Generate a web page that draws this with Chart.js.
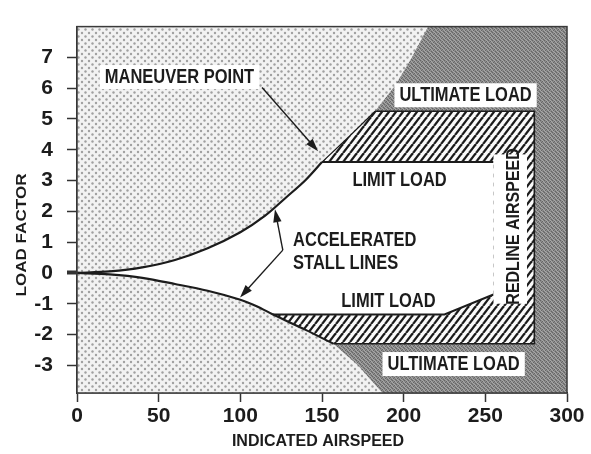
<!DOCTYPE html>
<html>
<head>
<meta charset="utf-8">
<title>V-g diagram</title>
<script src="https://cdn.jsdelivr.net/npm/chart.js"></script>
<style>
    html, body { margin: 0; padding: 0; background: #fff; }
    #wrap { width: 591px; height: 454px; }
</style>
</head>
<body>
<div id="wrap"><canvas id="vgChart" width="591" height="454"></canvas></div>
<script>
const xTicks = [0, 50, 100, 150, 200, 250, 300];
const yTicks = [-3, -2, -1, 0, 1, 2, 3, 4, 5, 6, 7];
const xMin = 0, xMax = 300, yMin = -3.9, yMax = 8;

// accelerated stall line, positive side (up to the maneuver point)
const posStallV = [0, 20, 40, 60, 80, 100, 115, 128, 140, 150];
const posStallN = [0, 0.05, 0.18, 0.42, 0.8, 1.32, 1.85, 2.45, 3.02, 3.6];
// edge of the shaded area above the maneuver point
const posEdgeV = [150, 166, 182.5, 195, 205, 215];
const posEdgeN = [3.6, 4.4, 5.25, 6.1, 7.0, 8.0];
// accelerated stall line, negative side
const negStallV = [0, 20, 40, 60, 80, 100, 110, 120, 140, 157, 172, 187];
const negStallN = [0, -0.05, -0.16, -0.36, -0.58, -0.87, -1.08, -1.35, -1.85, -2.3, -3.0, -3.9];
// negative limit load line
const negLimitV = [120, 225, 255];
const negLimitN = [-1.35, -1.35, -0.7];

const limitPos = 3.6;
const ultimatePos = 5.25;
const ultimateNeg = -2.3;
const redline = 255;
const cautionEnd = 280;

const notes = [
    { text: 'MANEUVER POINT', v: 17, n: 6.36, align: 'left', box: true },
    { text: 'ULTIMATE LOAD', v: 237.9, n: 5.77, align: 'center', box: true },
    { text: 'LIMIT LOAD', v: 197.5, n: 3.01, align: 'center' },
    { text: 'ACCELERATED', v: 132.3, n: 1.05, align: 'left' },
    { text: 'STALL LINES', v: 132.3, n: 0.31, align: 'left' },
    { text: 'LIMIT LOAD', v: 190.7, n: -0.93, align: 'center' },
    { text: 'ULTIMATE LOAD', v: 230.6, n: -2.96, align: 'center', box: true }
];
const redlineLabel = { text: 'REDLINE AIRSPEED', v: 267.5, n: 1.51, box: [255, 275.5, -1.0, 3.85] };
const arrows = [
    { from: [113.3, 6.02], to: [147.6, 3.95] },
    { from: [126, 0.74], to: [121.2, 2.07] },
    { from: [126, 0.74], to: [99.8, -0.8] }
];

const FONT = '"Liberation Sans", Arial, sans-serif';
const INK = '#1c1c1c';

const pts = (vs, ns) => vs.map((v, i) => ({ x: v, y: ns[i] }));

function makePattern(w, h, paint) {
    const c = document.createElement('canvas');
    c.width = w; c.height = h;
    const g = c.getContext('2d');
    paint(g, w, h);
    return c.getContext('2d').createPattern(c, 'repeat');
}

const dotPattern = makePattern(7, 7, (g, w, h) => {
    g.fillStyle = '#f2f2f2';
    g.fillRect(0, 0, w, h);
    g.fillStyle = '#a0a0a0';
    [[1.5, 1.5], [5, 5]].forEach(([cx, cy]) => {
        g.beginPath(); g.arc(cx, cy, 1.2, 0, Math.PI * 2); g.fill();
    });
});

const grayPattern = makePattern(4, 4, (g) => {
    g.fillStyle = '#8a8a8a';
    g.fillRect(0, 0, 4, 4);
    g.fillStyle = '#666666';
    [[0, 0], [2, 1], [1, 2], [3, 3]].forEach(([a, b]) => g.fillRect(a, b, 1, 1));
    g.fillStyle = '#a8a8a8';
    [[2, 0], [0, 2], [3, 1], [1, 3]].forEach(([a, b]) => g.fillRect(a, b, 1, 1));
});

const hatchPattern = makePattern(7, 9, (g, w, h) => {
    g.fillStyle = '#fafafa';
    g.fillRect(0, 0, w, h);
    g.strokeStyle = '#1a1a1a';
    g.lineWidth = 2.3;
    [-w, 0, w].forEach(k => {
        g.beginPath(); g.moveTo(k, h); g.lineTo(k + w, 0); g.stroke();
    });
});

const stallPos = pts(posStallV, posStallN);
const edgePos = pts(posEdgeV, posEdgeN);
const stallNeg = pts(negStallV, negStallN);
const limitNegLine = pts(negLimitV, negLimitN);

const dotsPoly = [{ x: xMin, y: yMax }, { x: xMax, y: yMax }, { x: xMax, y: yMin }, { x: xMin, y: yMin }];
const grayPoly = [...stallPos, ...edgePos.slice(1), { x: xMax, y: yMax }, { x: xMax, y: yMin },
    ...stallNeg.slice().reverse()];
const hatchPoly = [...stallPos, ...edgePos.slice(1).filter(p => p.y <= ultimatePos),
    { x: cautionEnd, y: ultimatePos }, { x: cautionEnd, y: ultimateNeg },
    ...stallNeg.filter(p => p.y >= ultimateNeg).reverse()];
const whitePoly = [...stallPos, { x: redline, y: limitPos }, ...limitNegLine.slice().reverse(),
    ...stallNeg.filter(p => p.y > negLimitN[0]).reverse()];

function area(data, color) {
    return { data, showLine: true, fill: 'shape', backgroundColor: color,
             borderWidth: 0, borderColor: 'transparent', pointRadius: 0 };
}
function stroke(data, width, tension) {
    return { data, showLine: true, fill: false, borderColor: INK, borderWidth: width,
             pointRadius: 0, tension: tension || 0 };
}

function drawText(ctx, text, x, y, align, size, stretch) {
    ctx.save();
    ctx.translate(x, y);
    ctx.scale(1, stretch);
    ctx.font = `bold ${size}px ${FONT}`;
    ctx.textAlign = align;
    ctx.textBaseline = 'middle';
    ctx.fillText(text, 0, 0);
    ctx.restore();
}

function drawArrow(ctx, x1, y1, x2, y2) {
    const a = Math.atan2(y2 - y1, x2 - x1);
    const len = 13, half = 4.2;
    const c = Math.cos(a), s = Math.sin(a);
    ctx.beginPath();
    ctx.moveTo(x1, y1);
    ctx.lineTo(x2 - len * 0.7 * c, y2 - len * 0.7 * s);
    ctx.stroke();
    ctx.beginPath();
    ctx.moveTo(x2, y2);
    ctx.lineTo(x2 - len * c + half * s, y2 - len * s - half * c);
    ctx.lineTo(x2 - len * c - half * s, y2 - len * s + half * c);
    ctx.closePath();
    ctx.fill();
}

const annotate = {
    id: 'annotate',
    afterDatasetsDraw(chart) {
        const { ctx, chartArea: ca } = chart;
        const sx = chart.scales.x, sy = chart.scales.y;
        const px = v => sx.getPixelForValue(v);
        const py = n => sy.getPixelForValue(n);

        ctx.save();
        ctx.strokeStyle = '#3a3a3a';
        ctx.lineWidth = 1.5;
        ctx.strokeRect(ca.left, ca.top, ca.right - ca.left, ca.bottom - ca.top);

        ctx.fillStyle = INK;
        ctx.strokeStyle = INK;
        ctx.lineWidth = 1.4;
        arrows.forEach(a => drawArrow(ctx, px(a.from[0]), py(a.from[1]), px(a.to[0]), py(a.to[1])));

        notes.forEach(nt => {
            const x = px(nt.v), y = py(nt.n);
            if (nt.box) {
                ctx.font = `bold 16.5px ${FONT}`;
                const w = ctx.measureText(nt.text).width;
                const left = nt.align === 'center' ? x - w / 2 : x;
                ctx.fillStyle = '#fff';
                ctx.fillRect(left - 5, y - 12, w + 10, 24);
            }
            ctx.fillStyle = INK;
            drawText(ctx, nt.text, x, y, nt.align, 16.5, 1.27);
        });

        const rb = redlineLabel.box;
        ctx.fillStyle = '#fff';
        ctx.fillRect(px(rb[0]), py(rb[3]), px(rb[1]) - px(rb[0]), py(rb[2]) - py(rb[3]));
        ctx.save();
        ctx.translate(px(redlineLabel.v), py(redlineLabel.n));
        ctx.rotate(-Math.PI / 2);
        ctx.scale(1, 1.15);
        ctx.fillStyle = INK;
        ctx.font = `bold 16px ${FONT}`;
        ctx.textAlign = 'center';
        ctx.textBaseline = 'middle';
        ctx.fillText(redlineLabel.text, 0, 0);
        ctx.restore();

        // axis titles
        ctx.fillStyle = INK;
        ctx.font = `bold 16px ${FONT}`;
        ctx.textAlign = 'center';
        ctx.textBaseline = 'middle';
        ctx.fillText('INDICATED AIRSPEED', 318, 442);
        ctx.save();
        ctx.translate(22, 235);
        ctx.rotate(-Math.PI / 2);
        ctx.scale(1.22, 1);
        ctx.font = `bold 14px ${FONT}`;
        ctx.fillText('LOAD FACTOR', 0, 0);
        ctx.restore();
        ctx.restore();
    }
};

new Chart(document.getElementById('vgChart'), {
    type: 'scatter',
    data: {
        datasets: [
            stroke(stallPos, 2.2, 0.3),
            stroke(stallNeg.filter(p => p.y >= ultimateNeg), 2.2, 0.3),
            stroke(edgePos.filter(p => p.y <= ultimatePos), 1.2),
            stroke([{ x: posStallV[posStallV.length - 1], y: limitPos }, { x: redline, y: limitPos }], 2),
            stroke(limitNegLine, 2),
            stroke([{ x: edgePos[2].x, y: ultimatePos }, { x: cautionEnd, y: ultimatePos },
                    { x: cautionEnd, y: ultimateNeg }, { x: 157, y: ultimateNeg }], 1.6),
            area(whitePoly, '#ffffff'),
            area(hatchPoly, hatchPattern),
            area(grayPoly, grayPattern),
            area(dotsPoly, dotPattern)
        ]
    },
    options: {
        responsive: false,
        animation: false,
        layout: { padding: { left: 0, right: 24, top: 7, bottom: 0 } },
        plugins: { legend: { display: false }, tooltip: { enabled: false } },
        scales: {
            x: {
                type: 'linear', min: xMin, max: xMax,
                afterBuildTicks: s => { s.ticks = xTicks.map(v => ({ value: v })); },
                afterFit: s => { s.height = 61; },
                grid: { drawOnChartArea: false, tickLength: 9, tickColor: '#333', tickWidth: 1.5 },
                border: { display: true, color: '#333', width: 1.5 },
                ticks: { color: INK, padding: 2, maxRotation: 0, autoSkip: false,
                         font: { family: FONT, size: 21, weight: 'bold' } }
            },
            y: {
                type: 'linear', min: yMin, max: yMax,
                afterBuildTicks: s => { s.ticks = yTicks.map(v => ({ value: v })); },
                afterFit: s => { s.width = 77; },
                grid: { drawOnChartArea: false, tickLength: 10, tickColor: '#333',
                        tickWidth: c => (c.tick && c.tick.value === 0 ? 4 : 1.5) },
                border: { display: true, color: '#333', width: 1.5 },
                ticks: { color: INK, padding: 14, autoSkip: false,
                         font: { family: FONT, size: 21, weight: 'bold' } }
            }
        }
    },
    plugins: [annotate]
});
</script>
</body>
</html>
